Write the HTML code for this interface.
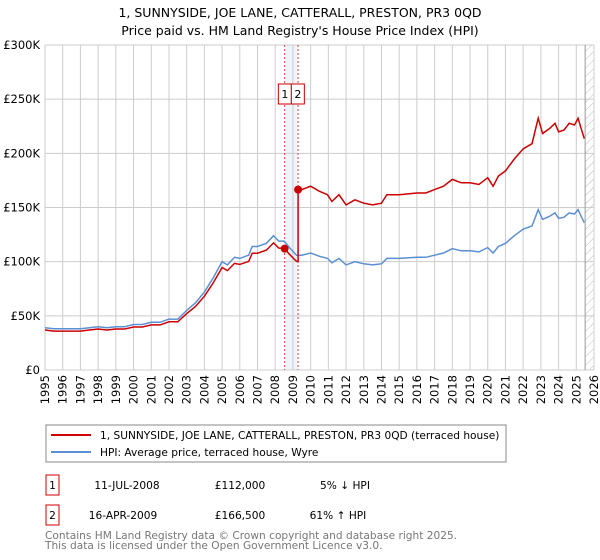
<!DOCTYPE html>
<html><head><meta charset="utf-8">
<style>
body{margin:0;background:#fff;}
svg{display:block;font-family:"DejaVu Sans","Liberation Sans",sans-serif;}
</style></head>
<body>
<svg id="chart" width="600" height="560" viewBox="0 0 600 560">
<defs>
<pattern id="hatch" width="6" height="6" patternUnits="userSpaceOnUse" patternTransform="rotate(45)">
<line x1="0" y1="0" x2="0" y2="6" stroke="#bbb" stroke-width="1"/>
</pattern>
</defs>
<text x="300" y="17" text-anchor="middle" font-size="12.5" fill="#000">1, SUNNYSIDE, JOE LANE, CATTERALL, PRESTON, PR3 0QD</text>
<text x="300" y="35" text-anchor="middle" font-size="12.5" fill="#000">Price paid vs. HM Land Registry's House Price Index (HPI)</text>
<g id="grid"></g>
<g id="marks"></g>
<g id="axes"></g>

<g>
<rect x="46" y="425" width="460" height="37" fill="#fff" stroke="#888" stroke-width="1"/>
<line x1="51" y1="435" x2="91" y2="435" stroke="#cc0000" stroke-width="2"/>
<text x="100" y="439" font-size="10.6">1, SUNNYSIDE, JOE LANE, CATTERALL, PRESTON, PR3 0QD (terraced house)</text>
<line x1="51" y1="452" x2="91" y2="452" stroke="#5b8fd4" stroke-width="2"/>
<text x="100" y="456" font-size="10.6">HPI: Average price, terraced house, Wyre</text>
</g>

<g font-size="10.6">
<rect x="46" y="475" width="13" height="20" fill="#fff" stroke="#cc0000" stroke-width="1"/>
<text x="52.5" y="489" text-anchor="middle">1</text>
<text x="127" y="489" text-anchor="middle">11-JUL-2008</text>
<text x="240" y="489" text-anchor="middle">£112,000</text>
<text x="345" y="489" text-anchor="middle">5% ↓ HPI</text>
</g>
<g font-size="10.6">
<rect x="46" y="505" width="13" height="20" fill="#fff" stroke="#cc0000" stroke-width="1"/>
<text x="52.5" y="519" text-anchor="middle">2</text>
<text x="123" y="519" text-anchor="middle">16-APR-2009</text>
<text x="240" y="519" text-anchor="middle">£166,500</text>
<text x="338" y="519" text-anchor="middle">61% ↑ HPI</text>
</g>
<text x="45" y="539" font-size="10.6" fill="#777">Contains HM Land Registry data © Crown copyright and database right 2025.</text>
<text x="45" y="549" font-size="10.6" fill="#777">This data is licensed under the Open Government Licence v3.0.</text>
</svg>
<script>
const hpiYears=[1995,1995.5,1996,1996.5,1997,1997.5,1998,1998.5,1999,1999.5,2000,2000.5,2001,2001.5,2002,2002.5,2003,2003.5,2004,2004.5,2005,2005.3,2005.7,2006,2006.5,2006.7,2007,2007.5,2007.9,2008.2,2008.5,2008.8,2009.2,2009.5,2010,2010.5,2010.95,2011.2,2011.6,2012,2012.5,2013,2013.5,2014,2014.3,2015,2016,2016.5,2017,2017.5,2018,2018.5,2019,2019.5,2020,2020.3,2020.6,2021,2021.5,2022,2022.5,2022.85,2023.1,2023.5,2023.8,2024,2024.3,2024.6,2024.9,2025.1,2025.3,2025.45];
const hpiValues=[39,38,38,38,38,39,40,39,40,40,42,42,44,44,47,47,55,62,72,85,100,97,104,103,106,114,114,117,124,119,119,113,106,106,108,105,103,99,103,97,100,98,97,98,103,103,104,104,106,108,112,110,110,109,113,108,114,117,124,130,133,148,139,142,145,140,141,145,144,148,141,136];
const saleDates=[2008.53,2009.29];
const salePrices=[112,166.5];
const saleLabels=["1","2"];
const yTicks=[0,50,100,150,200,250,300];
const yTickLabels=["£0","£50K","£100K","£150K","£200K","£250K","£300K"];
const xTicks=[1995,1996,1997,1998,1999,2000,2001,2002,2003,2004,2005,2006,2007,2008,2009,2010,2011,2012,2013,2014,2015,2016,2017,2018,2019,2020,2021,2022,2023,2024,2025,2026];

const X0=45,X1=594,Y0=370,Y1=45;
const xs=y=>X0+(y-1995)/(2026-1995)*(X1-X0);
const ys=v=>Y0-(v/300)*(Y0-Y1);
const NS="http://www.w3.org/2000/svg";
function mk(tag,attrs,parent){const e=document.createElementNS(NS,tag);for(const k in attrs)e.setAttribute(k,attrs[k]);parent.appendChild(e);return e;}
const grid=document.getElementById('grid'),marks=document.getElementById('marks'),axes=document.getElementById('axes');

const hx=xs(2025.5);
const hr=mk('rect',{x:hx,y:Y1,width:X1-hx,height:Y0-Y1,fill:'url(#hatch)'},grid);


const band=mk('rect',{x:xs(saleDates[0]),y:Y1,width:xs(saleDates[1])-xs(saleDates[0]),height:Y0-Y1,fill:'#e8eef8',opacity:0.7},grid);



yTicks.forEach((t,i)=>{
  const l=mk('line',{x1:X0,x2:X1,y1:ys(t),y2:ys(t),stroke:'#ccc','stroke-width':1},grid);
  
  
  const tx=mk('text',{x:X0-5,y:ys(t)+4,'text-anchor':'end','font-size':11.5},axes);
  tx.textContent=yTickLabels[i];
  
  
});
xTicks.forEach(t=>{
  const l=mk('line',{x1:xs(t),x2:xs(t),y1:Y1,y2:Y0,stroke:'#ccc','stroke-width':1},grid);
  
  
  const tx=mk('text',{x:0,y:0,'text-anchor':'end','font-size':11.5,transform:`translate(${xs(t)+4},${Y0+5}) rotate(-90)`},axes);
  tx.textContent=t;
  
  
});
const lr=mk('line',{x1:hx,x2:hx,y1:Y1,y2:Y0,stroke:'#999','stroke-width':1},grid);



saleDates.forEach((d,i)=>{
  const l=mk('line',{x1:xs(d),x2:xs(d),y1:Y1,y2:Y0,stroke:'#ee4444','stroke-width':1,'stroke-dasharray':'2,2'},grid);
  
  
});

function hpiAt(y){
  for(let i=1;i<hpiYears.length;i++){if(y<=hpiYears[i]){const f=(y-hpiYears[i-1])/(hpiYears[i]-hpiYears[i-1]);return hpiValues[i-1]+f*(hpiValues[i]-hpiValues[i-1]);}}
  return hpiValues[hpiValues.length-1];
}
const hp=hpiYears.map((y,i)=>xs(y).toFixed(1)+','+ys(hpiValues[i]).toFixed(1)).join(' ');
const hl=mk('polyline',{points:hp,fill:'none',stroke:'#5b8fd4','stroke-width':1.5},marks);


const r1=salePrices[0]/hpiAt(saleDates[0]), r2=salePrices[1]/hpiAt(saleDates[1]);
let pts=[];
hpiYears.forEach((y,i)=>{ if(y<saleDates[1]) pts.push([y,hpiValues[i]*r1]); });
pts.push([saleDates[1],hpiAt(saleDates[1])*r1]);
pts.push([saleDates[1],salePrices[1]]);
hpiYears.forEach((y,i)=>{ if(y>saleDates[1]) pts.push([y,hpiValues[i]*r2]); });
const pl=mk('polyline',{points:pts.map(p=>xs(p[0]).toFixed(1)+','+ys(p[1]).toFixed(1)).join(' '),fill:'none',stroke:'#cc0000','stroke-width':1.5},marks);



saleDates.forEach((d,i)=>{
  const c=mk('circle',{cx:xs(d),cy:ys(salePrices[i]),r:4,fill:'#cc0000'},marks);
  
  
});
const bx=xs((saleDates[0]+saleDates[1])/2);
[0,1].forEach(i=>{
  const x=bx-13+i*13;
  const g=mk('g',{},marks);
  
  
  mk('rect',{x:x,y:84,width:13,height:20,fill:'#fff',stroke:'#cc0000','stroke-width':1},g);
  const t=mk('text',{x:x+6.5,y:98,'text-anchor':'middle','font-size':11},g);
  t.textContent=saleLabels[i];
});
</script>
</body></html>
